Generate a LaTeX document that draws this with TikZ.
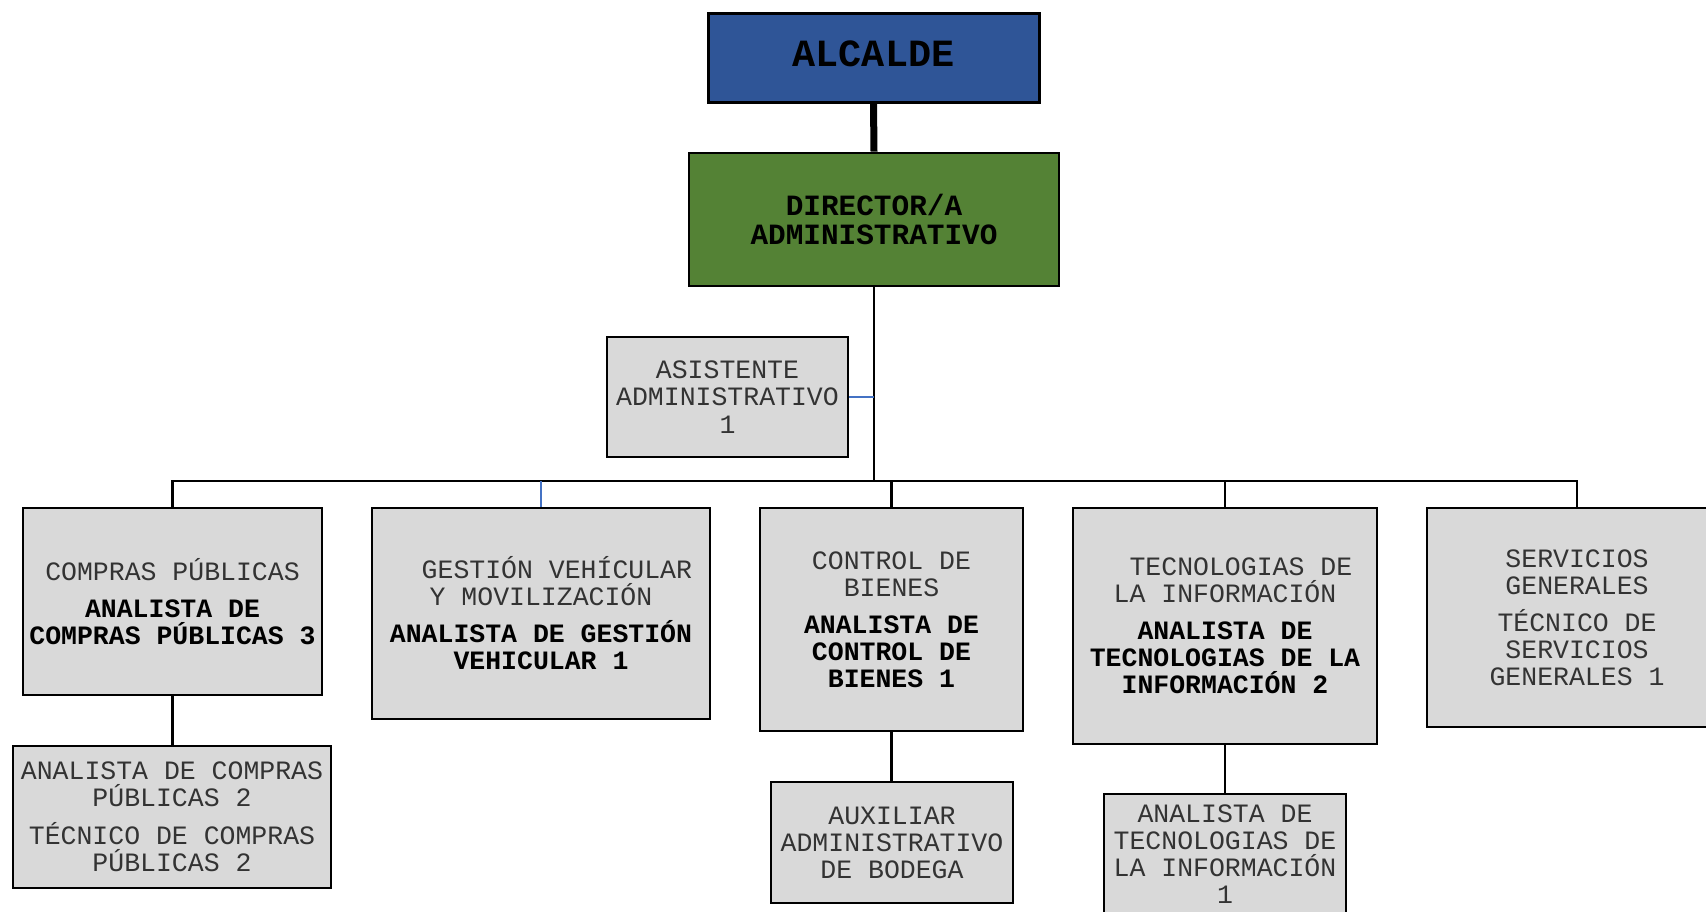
\documentclass[tikz,border=0pt]{standalone}
\usepackage{fontspec}
\setmainfont{Liberation Mono}
\definecolor{alcblue}{HTML}{2F5597}
\definecolor{dirgreen}{HTML}{548235}
\definecolor{boxgray}{HTML}{D9D9D9}
\definecolor{lineblue}{HTML}{4472C4}
\definecolor{txtgray}{HTML}{333333}
\newcommand{\bb}[1]{{\bfseries\color{black}#1}}
\tikzset{
  box/.style={draw=black, line width=2.6pt, fill=boxgray, rectangle, inner sep=0pt,
    align=center, text=txtgray, font=\fontsize{26.5}{27}\selectfont},
  conn/.style={draw=black, line width=2.4pt},
  blueconn/.style={draw=lineblue, line width=2pt},
  bigconn/.style={draw=black, line width=7pt},
}
\begin{document}
\begin{tikzpicture}[x=1pt,y=-1pt]
\useasboundingbox (0,0) rectangle (1706,911);
\clip (0,0) rectangle (1706,911);
\fill[white] (0,0) rectangle (1706,911);

\node[box, fill=alcblue, line width=3pt, minimum width=331pt, minimum height=89pt, text=black,
  text depth=7pt, font=\fontsize{38.5}{40}\selectfont\bfseries] (alc) at (873.5,57.5) {ALCALDE};
\node[box, fill=dirgreen, minimum width=370pt, minimum height=133pt, text=black,
  font=\fontsize{29.4}{28.3}\selectfont\bfseries] (dir) at (874,219.5) {DIRECTOR/A\\ADMINISTRATIVO};
\node[box, minimum width=241pt, minimum height=120pt, font=\fontsize{26.5}{27.5}\selectfont]
  (asi) at (727.5,397) {ASISTENTE\\ADMINISTRATIVO\\1};

\node[box, minimum width=299pt, minimum height=187pt] (com) at (172.5,601.5)
  {COMPRAS PÚBLICAS\\[10pt]\bb{ANALISTA DE}\\\bb{COMPRAS PÚBLICAS 3}};
\node[box, minimum width=318pt, minimum height=142pt] (comsub) at (172,817)
  {ANALISTA DE COMPRAS\\PÚBLICAS 2\\[11pt]TÉCNICO DE COMPRAS\\PÚBLICAS 2};
\node[box, minimum width=338pt, minimum height=211pt] (ges) at (541,613.5)
  {\hphantom{XX}GESTIÓN VEHÍCULAR\\Y MOVILIZACIÓN\\[10pt]\bb{ANALISTA DE GESTIÓN}\\\bb{VEHICULAR 1}};
\node[box, minimum width=263pt, minimum height=223pt] (con) at (891.5,619.5)
  {CONTROL DE\\BIENES\\[10pt]\bb{ANALISTA DE}\\\bb{CONTROL DE}\\\bb{BIENES 1}};
\node[box, minimum width=242pt, minimum height=121pt] (aux) at (892,842.5)
  {AUXILIAR\\ADMINISTRATIVO\\DE BODEGA};
\node[box, minimum width=304pt, minimum height=236pt] (ti) at (1225,626)
  {\hphantom{XX}TECNOLOGIAS DE\\LA INFORMACIÓN\\[10pt]\bb{ANALISTA DE}\\\bb{TECNOLOGIAS DE LA}\\\bb{INFORMACIÓN 2}};
\node[box, minimum width=242pt, minimum height=121pt] (tisub) at (1225,854.5)
  {ANALISTA DE\\TECNOLOGIAS DE\\LA INFORMACIÓN\\1};
\node[box, minimum width=300pt, minimum height=219pt] (ser) at (1577,617.5)
  {SERVICIOS\\GENERALES\\[10pt]TÉCNICO DE\\SERVICIOS\\GENERALES 1};

% connectors
\draw[bigconn] (alc.south) -- (dir.north);
\draw[conn] (com.north) -- ++(0,-26) coordinate (busl) -| (ser.north);
\draw[conn] (dir.south) -- (dir.south |- busl);
\draw[conn] (con.north) -- (con.north |- busl);
\draw[conn] (ti.north) -- (ti.north |- busl);
\draw[blueconn] (ges.north) -- (ges.north |- busl);
\draw[blueconn] (asi.east) -- (asi.east -| dir.south);
\draw[conn] (com.south) -- (com.south |- comsub.north);
\draw[conn] (con.south) -- (con.south |- aux.north);
\draw[conn] (ti.south) -- (ti.south |- tisub.north);
\end{tikzpicture}
\end{document}
